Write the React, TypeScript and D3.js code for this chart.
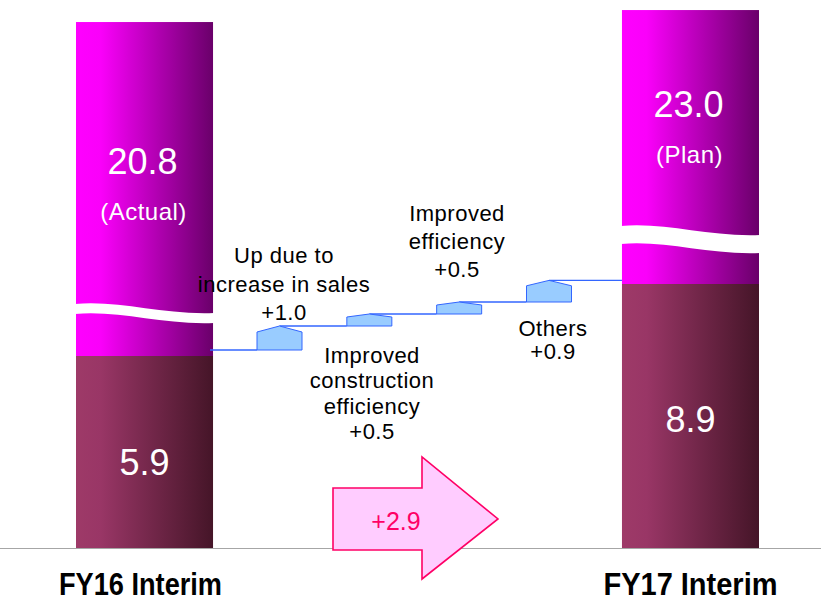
import React from "react";
import * as d3 from "d3";

const periods = ["FY16 Interim", "FY17 Interim"];
const totals = [20.8, 23.0];
const totalNotes = ["(Actual)", "(Plan)"];
const lowerValues = [5.9, 8.9];

const stepNames = ["sales", "construction", "efficiency", "others"];
const stepDeltas = [1.0, 0.5, 0.5, 0.9];
const stepLabels = [
  ["Up due to", "increase in sales", "+1.0"],
  ["Improved", "construction", "efficiency", "+0.5"],
  ["Improved", "efficiency", "+0.5"],
  ["Others", "+0.9"],
];
const totalChange = "+2.9";

const W = 821;
const H = 603;
const FONT = "'Liberation Sans', Arial, Helvetica, sans-serif";

export default function App() {
  const baseline = 548;
  const x = d3.scaleBand<string>().domain(periods).range([76, 759]).paddingInner(0.749).paddingOuter(0);
  const bw = x.bandwidth();
  const yLow = d3.scaleLinear().domain([0, 10]).range([497.6, 257.6]);
  const yHigh = d3.scaleLinear().domain([20, 24]).range([26.4, 4.6]);

  // layout (style) constants per bar
  const waveTop = [304, 226];
  const waveThick = [10, 18];
  const totalLabelY = [174, 117];
  const noteLabelY = [220, 163];
  const lowerLabelY = [475, 432];

  const stepX = d3.scalePoint<string>().domain(stepNames).range([279.5, 549]);
  const stepW = 45;
  const lineOffset = -6;
  const yStep = (v: number) => yLow(v) + lineOffset;
  const cum: number[] = [lowerValues[0]];
  stepDeltas.forEach((d) => cum.push(cum[cum.length - 1] + d));

  const stepLabelLayout = [
    { x: 284, y: 263, dy: 28.5 },
    { x: 372, y: 363, dy: 25.3 },
    { x: 457, y: 221, dy: 28 },
    { x: 553, y: 336, dy: 23 },
  ];

  const wavePath = (x0: number, x1: number, yA: number, t: number) => {
    const w = x1 - x0;
    const a = x0 - 1;
    const b = x1 + 1;
    return `M${a},${yA} C${x0 + 0.32 * w},${yA - 4} ${x0 + 0.62 * w},${yA + 11} ${b},${yA + 9} L${b},${yA + 9 + t} C${x0 + 0.62 * w},${yA + 11 + t} ${x0 + 0.32 * w},${yA - 4 + t} ${a},${yA + t} Z`;
  };

  const leftBarRight = (x(periods[0]) ?? 0) + bw;
  const rightBarLeft = x(periods[1]) ?? 0;

  const connectors: { x1: number; x2: number; y: number }[] = [];
  stepNames.forEach((n, i) => {
    const xl = (stepX(n) ?? 0) - stepW / 2;
    const from = i === 0 ? leftBarRight - 3 : stepX(stepNames[i - 1]) ?? 0;
    connectors.push({ x1: from, x2: xl, y: yStep(cum[i]) });
  });
  connectors.push({ x1: stepX(stepNames[stepNames.length - 1]) ?? 0, x2: rightBarLeft, y: yStep(cum[cum.length - 1]) });

  // arrow geometry
  const ax0 = 333, ax1 = 422, axTip = 498, ayTop = 488, ayBot = 550, ahTop = 457, ahBot = 579;
  const ayMid = (ayTop + ayBot) / 2;
  const arrowPath = `M${ax0},${ayTop} L${ax1},${ayTop} L${ax1},${ahTop} L${axTip},${ayMid} L${ax1},${ahBot} L${ax1},${ayBot} L${ax0},${ayBot} Z`;

  return (
    <svg width={W} height={H} style={{ position: "absolute", left: 0, top: 0 }} fontFamily={FONT}>
      <defs>
        <linearGradient id="gMag" x1="0" x2="1" y1="0" y2="0">
          <stop offset="0" stopColor="#FF00FF" />
          <stop offset="0.18" stopColor="#FA00FA" />
          <stop offset="1" stopColor="#6A006A" />
        </linearGradient>
        <linearGradient id="gDark" x1="0" x2="1" y1="0" y2="0">
          <stop offset="0" stopColor="#9E3A68" />
          <stop offset="0.18" stopColor="#993666" />
          <stop offset="1" stopColor="#451528" />
        </linearGradient>
      </defs>
      <rect x={0} y={0} width={W} height={H} fill="#FFFFFF" />

      {periods.map((p, i) => {
        const x0 = x(p) ?? 0;
        const yTop = yHigh(totals[i]);
        const yMid = yLow(lowerValues[i]);
        const cx = x0 + bw / 2;
        return (
          <g key={p}>
            <rect x={x0} y={yTop} width={bw} height={yMid - yTop} fill="url(#gMag)" />
            <rect x={x0} y={yMid} width={bw} height={baseline - yMid} fill="url(#gDark)" />
            <path d={wavePath(x0, x0 + bw, waveTop[i], waveThick[i])} fill="#FFFFFF" />
            <text x={cx - 2} y={totalLabelY[i]} textAnchor="middle" fill="#FFFFFF" fontSize={36}>
              {totals[i].toFixed(1)}
            </text>
            <text x={cx - 1} y={noteLabelY[i]} textAnchor="middle" fill="#FFFFFF" fontSize={24} letterSpacing={0.5}>
              {totalNotes[i]}
            </text>
            <text x={cx} y={lowerLabelY[i]} textAnchor="middle" fill="#FFFFFF" fontSize={36}>
              {lowerValues[i].toFixed(1)}
            </text>
          </g>
        );
      })}

      <line x1={0} x2={W} y1={baseline + 0.5} y2={baseline + 0.5} stroke="#A6A6A6" strokeWidth={1.2} />

      {connectors.map((c, i) => (
        <line key={i} x1={c.x1} x2={c.x2} y1={c.y} y2={c.y} stroke="#3366FF" strokeWidth={1.4} />
      ))}

      {stepNames.map((n, i) => {
        const xc = stepX(n) ?? 0;
        const xl = xc - stepW / 2;
        const xr = xc + stepW / 2;
        const y0 = yStep(cum[i]);
        const yt = yStep(cum[i + 1]);
        const sh = yt + (y0 - yt) * 0.25;
        return (
          <path
            key={n}
            d={`M${xl},${y0} L${xl},${sh} L${xc},${yt} L${xr},${sh} L${xr},${y0} Z`}
            fill="#99CCFF"
            stroke="#3366FF"
            strokeWidth={1}
          />
        );
      })}

      {stepLabels.map((lines, i) => (
        <text key={i} textAnchor="middle" fontSize={22} fill="#000000" letterSpacing={0.5}>
          {lines.map((l, j) => (
            <tspan key={j} x={stepLabelLayout[i].x} y={stepLabelLayout[i].y + j * stepLabelLayout[i].dy}>
              {l}
            </tspan>
          ))}
        </text>
      ))}

      <path d={arrowPath} fill="#FFCCFF" stroke="#FF0066" strokeWidth={1.6} />
      <text x={396} y={530} textAnchor="middle" fontSize={25} fill="#FF0066">
        {totalChange}
      </text>

      {periods.map((p, i) => {
        const cx = (x(p) ?? 0) + bw / 2;
        const lens = [163, 174];
        return (
          <text
            key={p}
            x={i === 0 ? cx - 4 : cx}
            y={595}
            textAnchor="middle"
            fontSize={31}
            fontWeight="bold"
            fill="#000000"
            textLength={lens[i]}
            lengthAdjust="spacingAndGlyphs"
          >
            {p}
          </text>
        );
      })}
    </svg>
  );
}
